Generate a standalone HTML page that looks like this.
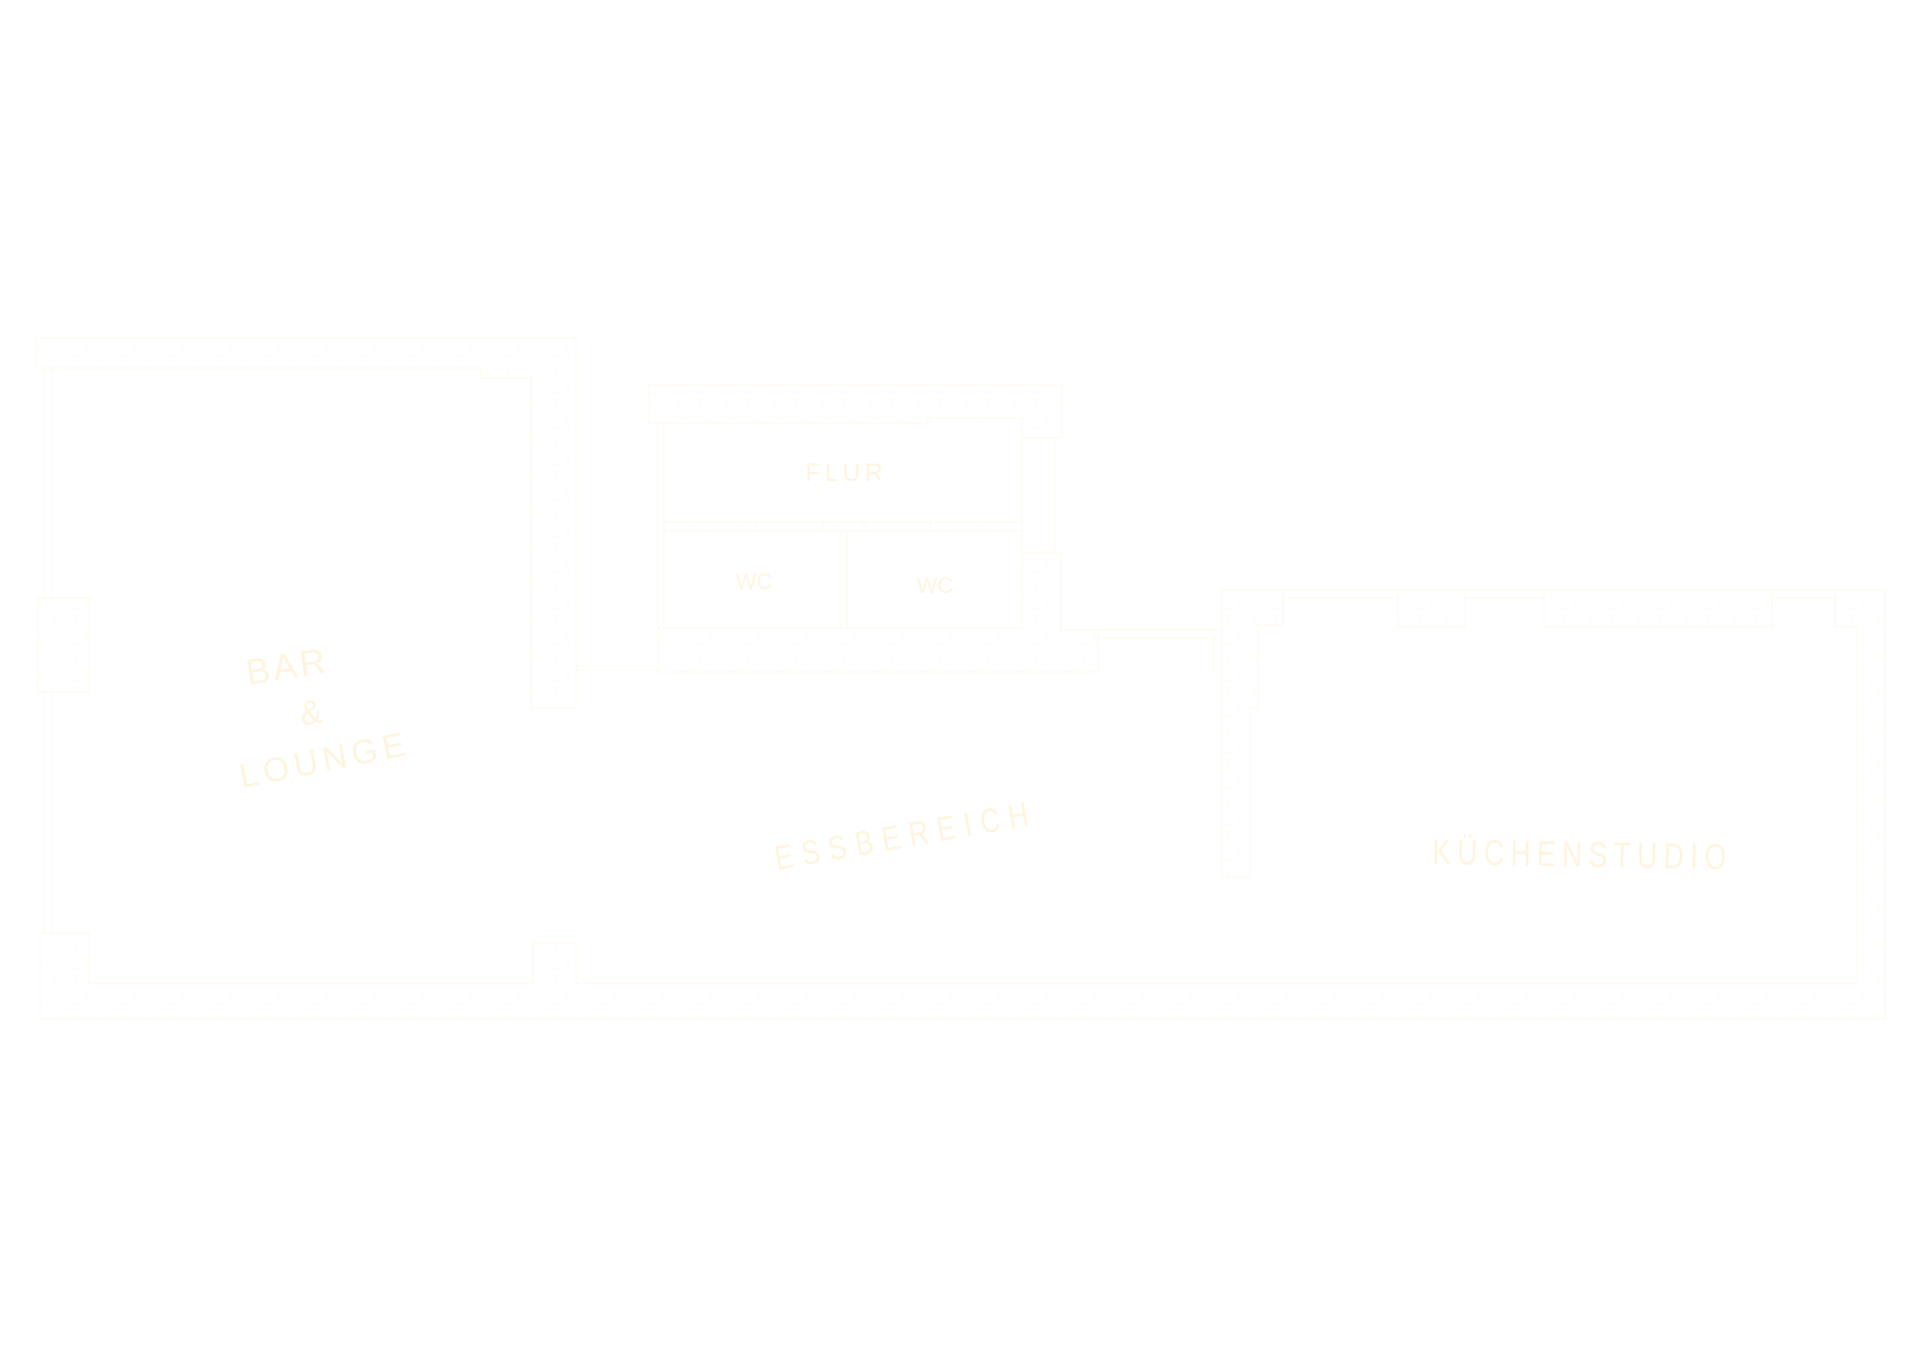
<!DOCTYPE html>
<html>
<head>
<meta charset="utf-8">
<style>
html,body{margin:0;padding:0;background:#ffffff;}
svg{display:block;}
text{font-family:"Liberation Sans", sans-serif;fill:#fff5df;}
</style>
</head>
<body>
<svg width="1920" height="1358" viewBox="0 0 1920 1358" xmlns="http://www.w3.org/2000/svg">
<defs>
<pattern id="h" width="48" height="36" patternUnits="userSpaceOnUse">
<path d="M4 6l5 7 M30 5l-4 9 M14 24l6-5 M36 22l5 8 M24 32l7 1" stroke="#fffaf2" stroke-width="1" fill="none"/>
</pattern>
</defs>
<rect width="1920" height="1358" fill="#ffffff"/>

<g fill="url(#h)" stroke="#fff8ec" stroke-width="1">
  <path d="M36 338 H576 V708 H531 V378 H481 V368 H36 Z"/>
  <rect x="38" y="598" width="51" height="94"/>
  <path d="M40 933 H89 V983 H533 V943 H576 V983 H1857 V627 H1835 V590 H1885 V1019 H40 Z"/>
  <path d="M649 385 H1062 V438 H1022 V418 H928 V423 H649 Z"/>
  <path d="M1022 553 H1061 V630 H1098 V672 H658 V628 H1022 Z"/>
  <rect x="664" y="522" width="92" height="9"/>
  <rect x="823" y="522" width="41" height="9"/>
  <rect x="930" y="522" width="92" height="9"/>
  <path d="M1222 590 H1283 V625 H1258 V708 H1250 V877 H1222 Z"/>
  <rect x="1398" y="590" width="67" height="37"/>
  <rect x="1544" y="590" width="228" height="37"/>
</g>

<g stroke="#fff8ec" stroke-width="1" fill="none">
  <path d="M44 368 V598 M52 368 V598 M44 692 V933 M52 692 V933"/>
  <path d="M576 666 H658 M576 670 H658"/>
  <path d="M658 423 V628 M664 423 V628"/>
  <path d="M1055 438 V553 M1022 418 V553"/>
  <path d="M664 522 H1022 M664 531 H1022"/>
  <path d="M840 531 V628 M847 531 V628"/>
  <path d="M1061 630 H1221 M1098 638 H1214 M1214 638 V672 H1222 M1215 631 V638"/>
  <path d="M1283 590 H1398 M1283 598 H1398 M1465 590 H1544 M1465 598 H1544 M1772 590 H1835 M1772 598 H1835"/>
</g>

<text x="846" y="481" font-size="25" letter-spacing="4" text-anchor="middle">FLUR</text>
<text x="754" y="589" font-size="22" text-anchor="middle">WC</text>
<text x="935" y="593" font-size="22" text-anchor="middle">WC</text>

<g transform="translate(1432 864) rotate(1) scale(0.78 1)">
  <text x="0" y="0" font-size="36" textLength="377" lengthAdjust="spacing">KÜCHENSTUDIO</text>
</g>

<g transform="translate(777 870) rotate(-10) scale(0.8 1)">
  <text x="0" y="0" font-size="34" textLength="321" lengthAdjust="spacing">ESSBEREICH</text>
</g>

<g transform="translate(248 685) rotate(-9)">
  <text x="0" y="0" font-size="36" textLength="80" lengthAdjust="spacing">BAR</text>
</g>
<text x="311" y="724" font-size="34" text-anchor="middle" transform="rotate(-8 311 712)">&amp;</text>
<g transform="translate(242 788) rotate(-11.3)">
  <text x="0" y="0" font-size="34" textLength="168" lengthAdjust="spacing">LOUNGE</text>
</g>
</svg>
</body>
</html>
